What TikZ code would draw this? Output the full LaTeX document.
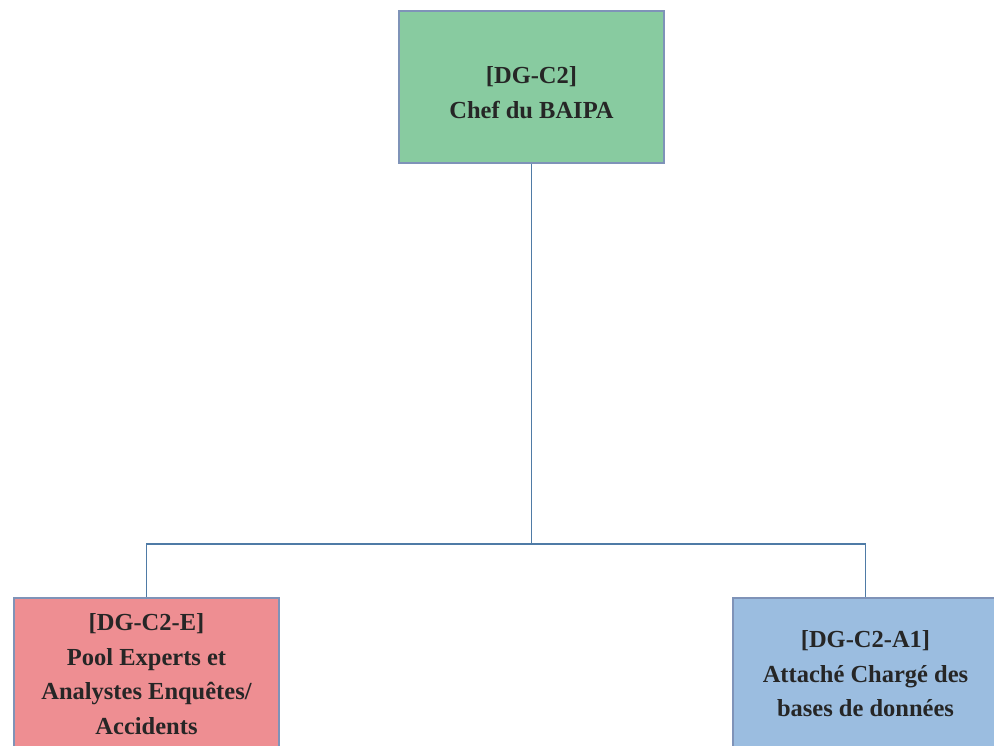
\documentclass[tikz,border=0pt]{standalone}
\usepackage{fontspec}
\setmainfont{Liberation Serif}
\definecolor{boxline}{HTML}{7F93B8}
\definecolor{connline}{HTML}{4F7BA6}
\definecolor{topfill}{HTML}{88CBA0}
\definecolor{leftfill}{HTML}{EE8E92}
\definecolor{rightfill}{HTML}{9BBDE0}
\begin{document}
\begin{tikzpicture}[x=1pt,y=-1pt,
  orgbox/.style={draw=boxline, line width=1.2pt, minimum width=265pt, minimum height=152pt,
    inner sep=0pt, align=center, font=\fontsize{24.5}{34.5}\selectfont\bfseries, text=black!85},
  conn/.style={draw=connline, line width=1.1pt}]
\useasboundingbox (0,0) rectangle (994,746);
\clip (0,0) rectangle (994,746);
\fill[white] (0,0) rectangle (994,746);
\node[orgbox, fill=topfill] (top) at (531.5,87) {\rule{0pt}{28pt}[DG-C2]\\Chef du BAIPA};
\node[orgbox, fill=leftfill] (left) at (146.5,674) {[DG-C2-E]\\Pool Experts et\\Analystes Enquêtes/\\Accidents};
\node[orgbox, fill=rightfill] (right) at (865.5,674) {[DG-C2-A1]\\Attaché Chargé des\\bases de données};
\coordinate (junc) at (531.5,544);
\draw[conn] (top.south) -- (junc);
\draw[conn] (junc) -| (left.north);
\draw[conn] (junc) -| (right.north);
\end{tikzpicture}
\end{document}
